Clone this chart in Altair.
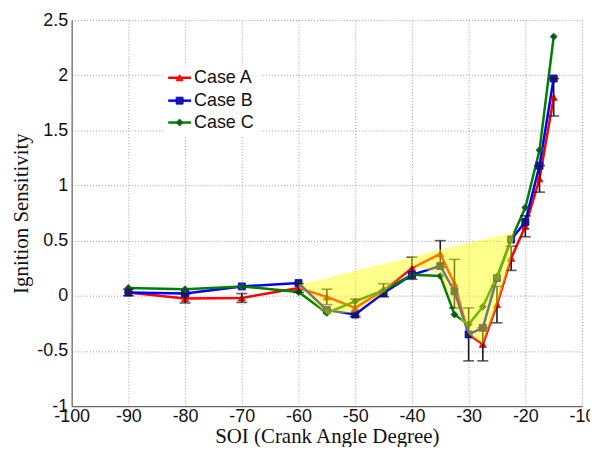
import altair as alt
import pandas as pd

# ---------------- data ----------------
soi = [-90, -80, -70, -60, -55, -50, -45, -40, -35, -32.5, -30, -27.5, -25, -22.5, -20, -17.5, -15]
case_a = [0.03, -0.025, -0.02, 0.07, -0.01, -0.11, 0.05, 0.25, 0.38, 0.11, -0.35, -0.44, -0.08, 0.34, 0.63, 1.06, 1.80]
case_b = [0.03, 0.02, 0.085, 0.115, -0.13, -0.17, 0.025, 0.19, 0.27, 0.04, -0.35, -0.29, 0.16, 0.51, 0.67, 1.18, 1.97]
case_c = [0.07, 0.06, 0.085, 0.035, -0.155, -0.05, 0.05, 0.19, 0.18, -0.17, -0.26, -0.10, 0.175, 0.51, 0.80, 1.32, 2.35]
err_a = [0.03, 0.04, 0.04, 0.04, 0.07, 0.08, 0.06, 0.10, 0.12, 0.22, 0.24, 0.15, 0.165, 0.11, 0.095, 0.12, 0.17]

# highlighted (yellow) region
shade_x = [-60, -55, -50, -45, -40, -35, -32.5, -30, -27.5, -25, -22.5, -22]
shade_top = [0.10, 0.16, 0.23, 0.29, 0.35, 0.42, 0.45, 0.48, 0.51, 0.54, 0.57, 0.58]
shade_bottom = [0.08, -0.17, -0.15, 0.03, 0.27, 0.20, -0.10, -0.35, -0.44, -0.09, 0.33, 0.58]

cases = ["Case A", "Case B", "Case C"]
line_colors = ["#ff0000", "#0000ff", "#008000"]
marker_fill = ["#ff1010", "#1c1c7a", "#1f4a3a"]
marker_shapes = ["triangle-up", "square", "diamond"]

x_ticks = [-100, -90, -80, -70, -60, -50, -40, -30, -20, -10]
y_ticks = [-1, -0.5, 0, 0.5, 1, 1.5, 2, 2.5]

# ---------------- tables ----------------
rows = []
for name, vals in zip(cases, [case_a, case_b, case_c]):
    for s, v in zip(soi, vals):
        rows.append({"soi": s, "value": v, "case": name})
df = pd.DataFrame(rows)

err_df = pd.DataFrame({
    "soi": soi,
    "lo": [v - e for v, e in zip(case_a, err_a)],
    "hi": [v + e for v, e in zip(case_a, err_a)],
})
shade_df = pd.DataFrame({"soi": shade_x, "top": shade_top, "bottom": shade_bottom})

# ---------------- scales / axes ----------------
xscale = alt.Scale(domain=[-100, -10], nice=False, zero=False)
yscale = alt.Scale(domain=[-1, 2.5], nice=False, zero=False)

xaxis = alt.Axis(
    title="SOI (Crank Angle Degree)", values=x_ticks, labelExpr="'' + datum.value",
    labelFlush=False, labelOverlap=False, ticks=False, labelPadding=2,
    labelFont="Liberation Sans", labelFontSize=18, labelColor="#111111",
    titleFont="Liberation Serif", titleFontSize=21, titleFontWeight="normal", titleColor="#111111",
    titleBaseline="alphabetic", titleY=37,
    domainColor="#666666", domainWidth=1.2,
    grid=True, gridColor="#9a9a9a", gridDash=[1, 2], gridWidth=1,
)
yaxis = alt.Axis(
    title="Ignition Sensitivity", values=y_ticks, labelExpr="'' + datum.value",
    labelFlush=False, labelOverlap=False, ticks=False, labelPadding=4,
    labelFont="Liberation Sans", labelFontSize=18, labelColor="#111111",
    titleFont="Liberation Serif", titleFontSize=21, titleFontWeight="normal", titleColor="#111111",
    titleBaseline="middle", titleX=-50, titleY=194, titleAngle=270,
    domainColor="#666666", domainWidth=1.2,
    grid=True, gridColor="#9a9a9a", gridDash=[1, 2], gridWidth=1,
)

X = alt.X("soi:Q", scale=xscale, axis=xaxis)

color = alt.Color("case:N", scale=alt.Scale(domain=cases, range=line_colors), legend=None)
fill = alt.Fill("case:N", scale=alt.Scale(domain=cases, range=marker_fill), legend=None)
shape = alt.Shape("case:N", scale=alt.Scale(domain=cases, range=marker_shapes), legend=None)

lines = alt.Chart(df).mark_line(strokeWidth=2.5).encode(
    x=X, y=alt.Y("value:Q", scale=yscale, axis=yaxis), color=color, detail="case:N"
)
points = alt.Chart(df).mark_point(filled=True, size=48, opacity=1, strokeWidth=1).encode(
    x=X, y=alt.Y("value:Q", scale=yscale, axis=yaxis), fill=fill, shape=shape,
    stroke=alt.Stroke("case:N", scale=alt.Scale(domain=cases, range=line_colors), legend=None),
)
err_rule = alt.Chart(err_df).mark_rule(color="#1a1a1a", strokeWidth=1.6).encode(
    x=X, y=alt.Y("lo:Q", scale=yscale, axis=yaxis), y2="hi:Q"
)
cap_lo = alt.Chart(err_df).mark_tick(color="#1a1a1a", orient="horizontal", size=11, thickness=1.6).encode(
    x=X, y=alt.Y("lo:Q", scale=yscale, axis=yaxis)
)
cap_hi = alt.Chart(err_df).mark_tick(color="#1a1a1a", orient="horizontal", size=11, thickness=1.6).encode(
    x=X, y=alt.Y("hi:Q", scale=yscale, axis=yaxis)
)
shade = alt.Chart(shade_df).mark_area(color="#ffff00", opacity=0.45, interpolate="linear").encode(
    x=X, y=alt.Y("bottom:Q", scale=yscale, axis=yaxis), y2="top:Q"
)

# ---------------- manual legend (line + marker + label) ----------------
one = pd.DataFrame({"k": [0]})
legend_layers = [
    alt.Chart(one).mark_rect(fill="white").encode(
        x=alt.value(93), x2=alt.value(190), y=alt.value(46), y2=alt.value(116)
    )
]
legend_rows = [58, 81, 103]
for name, lc, mf, ms, ly in zip(cases, line_colors, marker_fill, marker_shapes, legend_rows):
    legend_layers.append(
        alt.Chart(one).mark_rule(color=lc, strokeWidth=2.5).encode(
            x=alt.value(97), x2=alt.value(120), y=alt.value(ly)
        )
    )
    legend_layers.append(
        alt.Chart(one).mark_point(shape=ms, filled=True, fill=mf, stroke=lc, strokeWidth=1, size=48, opacity=1).encode(
            x=alt.value(108.5), y=alt.value(ly)
        )
    )
    legend_layers.append(
        alt.Chart(one).mark_text(align="left", baseline="middle", font="Liberation Sans", fontSize=18, color="#111111").encode(
            x=alt.value(123), y=alt.value(ly), text=alt.value(name)
        )
    )

chart = alt.layer(lines, points, err_rule, cap_lo, cap_hi, shade, *legend_layers).properties(
    width=513, height=388,
    autosize=alt.AutoSizeParams(type="none"),
    padding={"left": 64, "top": 11, "right": 8, "bottom": 40},
    background="white",
).configure_view(stroke=None)

chart.save("out.html", embed_options={"renderer": "svg", "actions": False})
